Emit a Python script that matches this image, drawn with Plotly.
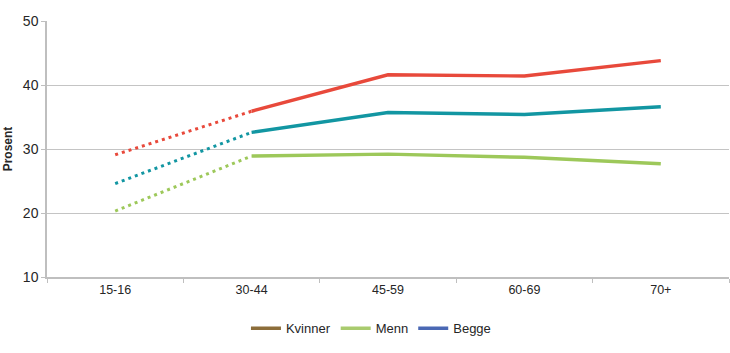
import plotly.graph_objects as go

categories = ["15-16", "30-44", "45-59", "60-69", "70+"]
kvinner = [29.1, 35.9, 41.6, 41.4, 43.8]
menn = [20.3, 28.9, 29.2, 28.7, 27.7]
begge = [24.6, 32.6, 35.7, 35.4, 36.6]
y_ticks = [10, 20, 30, 40, 50]

series = [
    ("Kvinner", kvinner, "#E8493B", "#8C6D3A"),
    ("Menn", menn, "#9DC85A", "#A9CB6E"),
    ("Begge", begge, "#1296A2", "#4A68B4"),
]

fig = go.Figure()
# draw order: Menn, Begge, Kvinner so red on top
for name, vals, col, _ in [series[1], series[2], series[0]]:
    fig.add_trace(go.Scatter(x=categories[:2], y=vals[:2], mode="lines",
                             line=dict(color=col, width=3, dash="3px,4px"),
                             showlegend=False, hoverinfo="skip"))
    fig.add_trace(go.Scatter(x=categories[1:], y=vals[1:], mode="lines",
                             line=dict(color=col, width=3.4),
                             showlegend=False, name=name))
for name, vals, col, lcol in series:
    fig.add_trace(go.Scatter(x=[None], y=[None], mode="lines", name=name,
                             line=dict(color=lcol, width=3.5), showlegend=True))

fig.update_layout(
    width=730, height=353,
    margin=dict(l=47, r=1, t=21, b=76),
    paper_bgcolor="white", plot_bgcolor="white",
    font=dict(family="Liberation Sans, Arial, sans-serif", size=12, color="#262626"),
    showlegend=True,
    legend=dict(orientation="h", x=0.475, xanchor="center", y=-0.2, yanchor="middle",
                font=dict(size=13, color="#262626"), itemwidth=30,
                traceorder="normal"),
    xaxis=dict(type="category", categoryorder="array", categoryarray=categories,
               showline=True, linecolor="#BFBFBF", linewidth=1.5,
               ticks="outside", ticklen=4, tickcolor="#BFBFBF", tickson="boundaries",
               showgrid=False, tickfont=dict(size=12.5), range=[-0.5, 4.5]),
    yaxis=dict(range=[10, 50], tickvals=y_ticks, showline=True, linecolor="#BFBFBF",
               linewidth=1.5, ticks="outside", ticklen=4, tickcolor="#BFBFBF",
               showgrid=True, gridcolor="#C4C4C4", gridwidth=1.2,
               tickfont=dict(size=14), zeroline=False,
               title=dict(text="<b>Prosent</b>", font=dict(size=12), standoff=8)),
)

fig.write_html("out.html")
